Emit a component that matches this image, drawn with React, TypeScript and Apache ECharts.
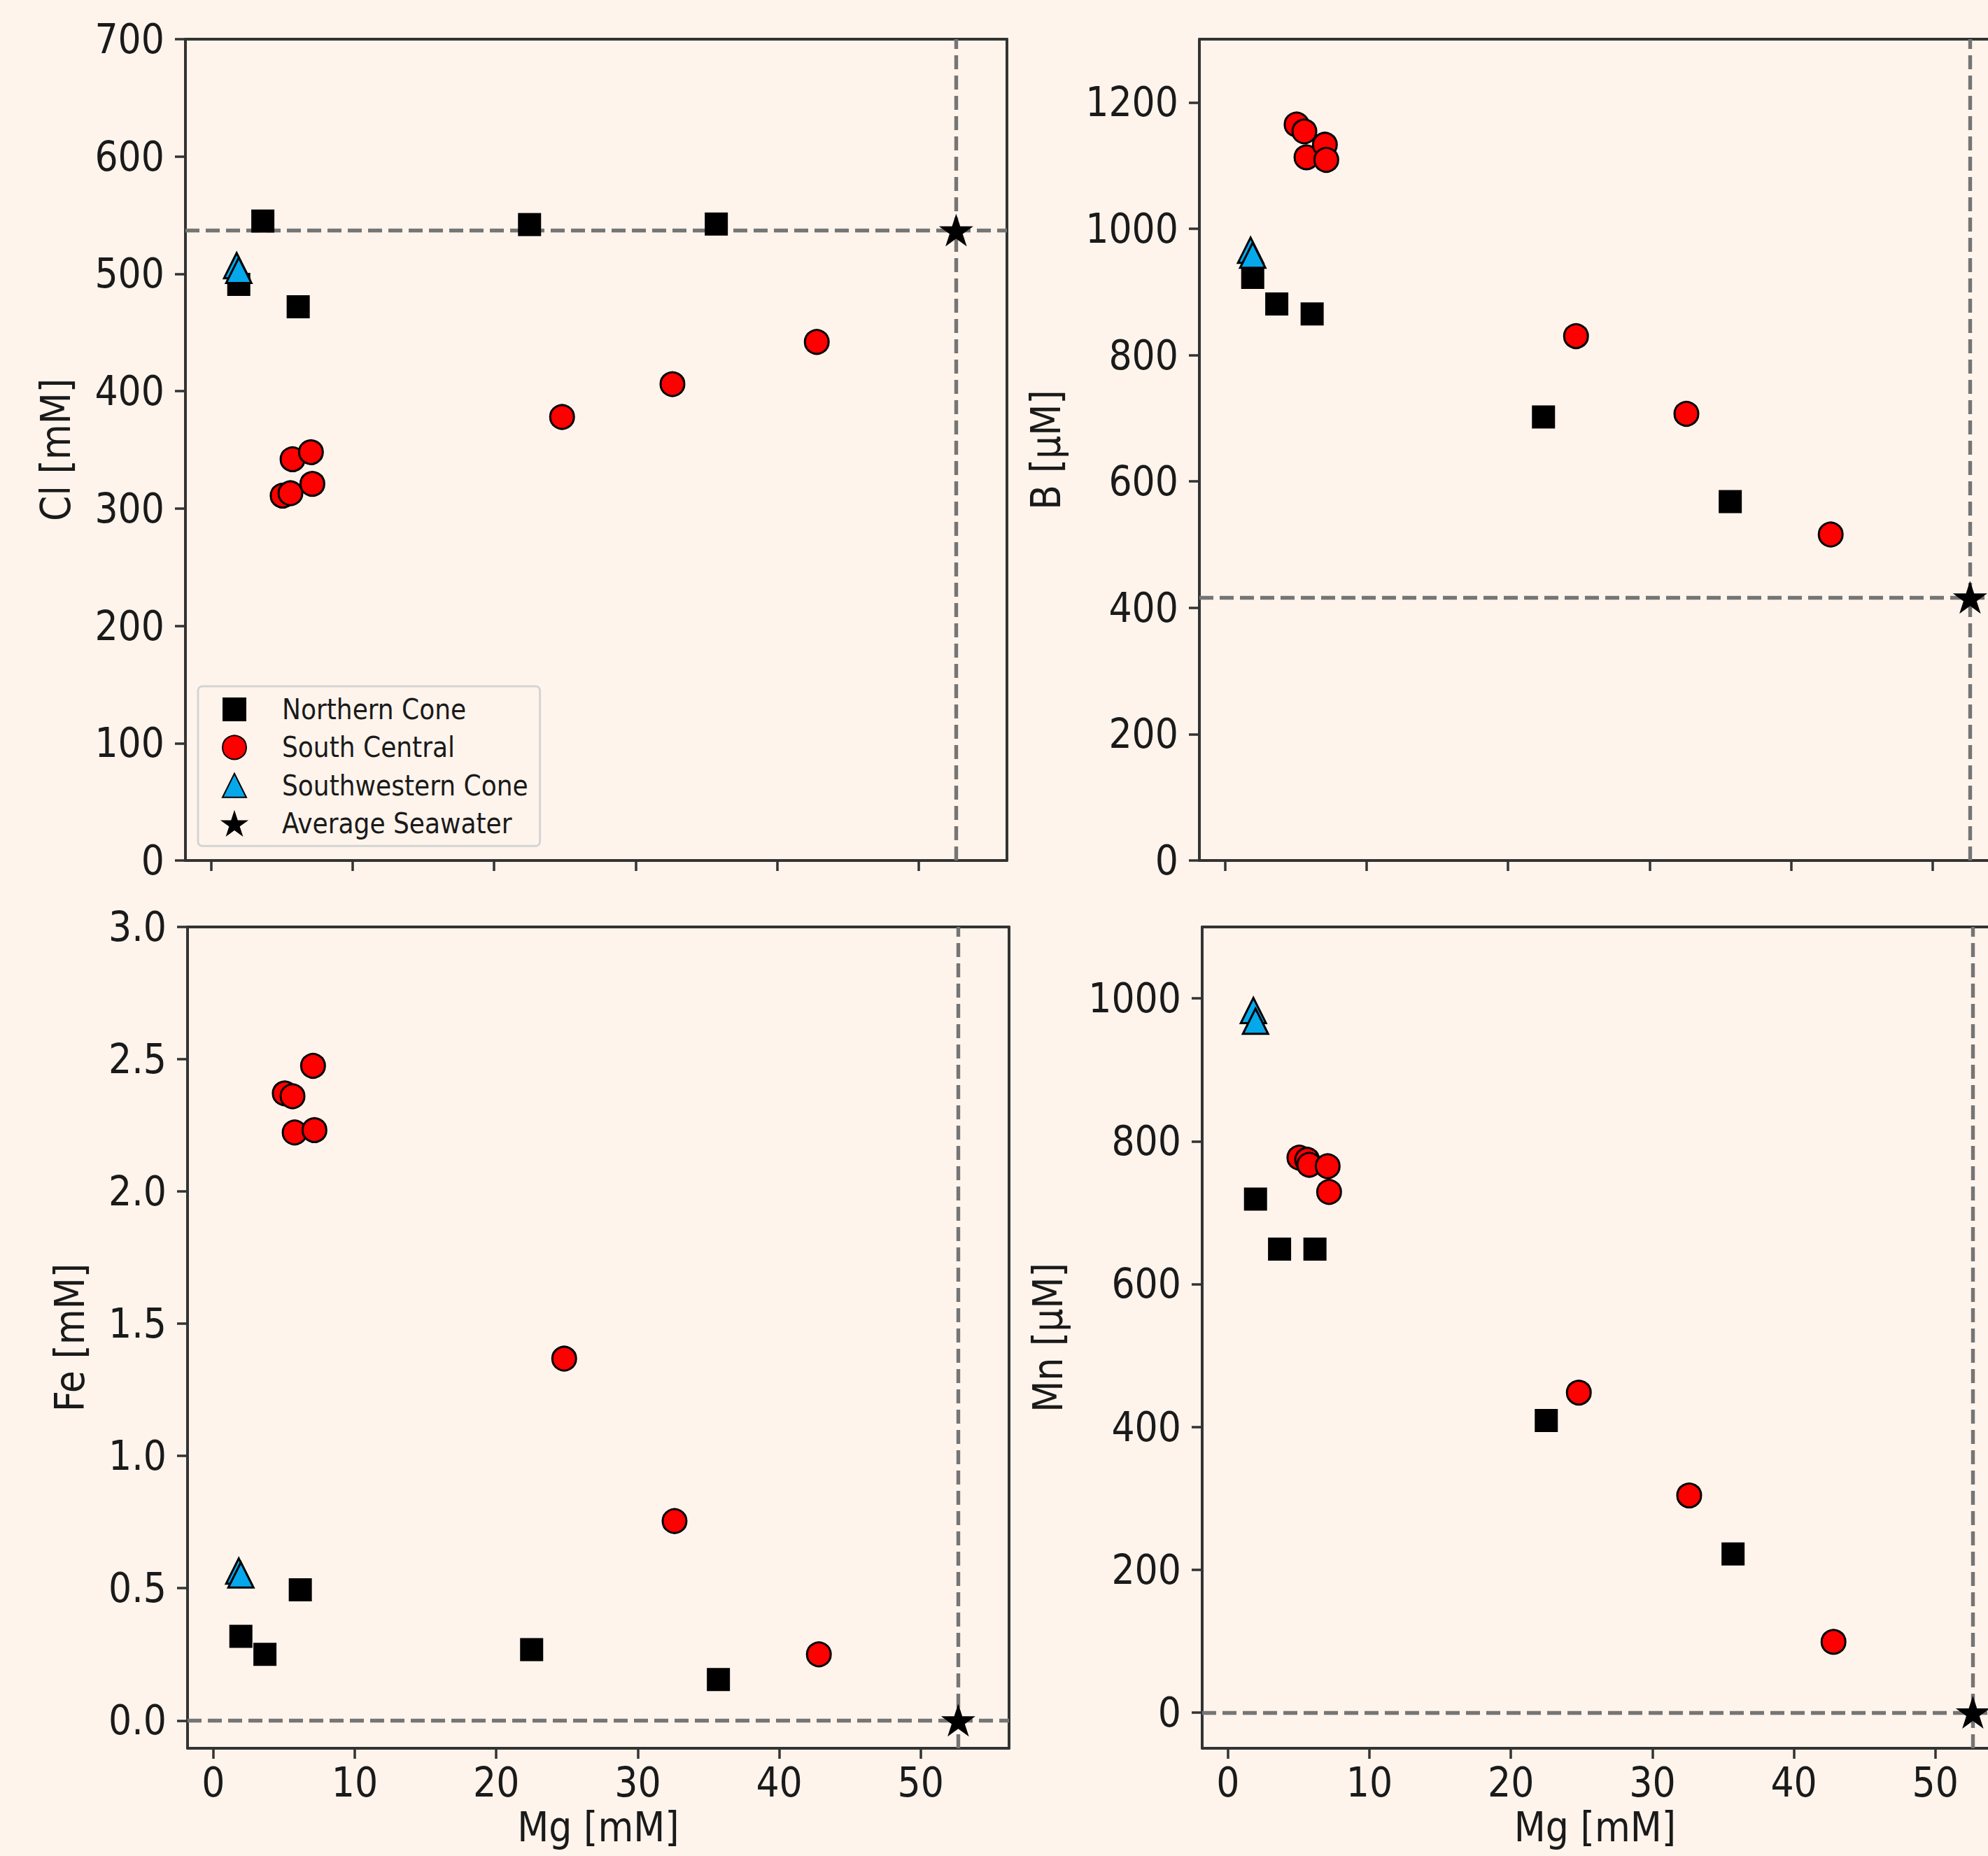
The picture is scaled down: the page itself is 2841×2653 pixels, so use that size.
import React, { useEffect, useRef } from "react";
import * as echarts from "echarts";

// ---- data ----
const seriesNames = ["Northern Cone", "South Central", "Southwestern Cone", "Average Seawater"];

const mgNorthern = [1.95, 3.65, 6.15, 22.5, 35.7];
const mgSouthCentral = [5.05, 5.6, 5.75, 7.05, 7.15, 24.8, 32.6, 42.8];
const mgSouthwestern = [1.8, 1.95];
const mgSeawater = [52.65];

const clNorthern = [491, 545, 472, 542, 542.5];
const clSouthCentral = [311, 313, 342, 348, 321, 378, 406, 442];
const clSouthwestern = [507, 503];
const clSeawater = [537];

const bNorthern = [923, 881, 865, 702, 568];
const bSouthCentral = [1165, 1154, 1113, 1133, 1109, 830, 707, 516];
const bSouthwestern = [966, 958];
const bSeawater = [416];

const feNorthern = [0.318, 0.25, 0.494, 0.268, 0.155];
const feSouthCentral = [2.371, 2.36, 2.223, 2.475, 2.232, 1.368, 0.754, 0.25];
const feSouthwestern = [0.565, 0.55];
const feSeawater = [0];

const mnNorthern = [719, 649, 649, 409, 222];
const mnSouthCentral = [777, 774, 767, 765, 729, 448, 304, 99];
const mnSouthwestern = [983, 968];
const mnSeawater = [0];

const xTicks = [0, 10, 20, 30, 40, 50];
const clTicks = [0, 100, 200, 300, 400, 500, 600, 700];
const bTicks = [0, 200, 400, 600, 800, 1000, 1200];
const feTicks = [0, 0.5, 1.0, 1.5, 2.0, 2.5, 3.0];
const mnTicks = [0, 200, 400, 600, 800, 1000];

// ---- styling ----
const BG = "#FEF4EC";
const FONT = "'DejaVu Sans Condensed', 'DejaVu Sans', sans-serif";
const TEXT = "#1a1a1a";
const SPINE = "#333333";
const FS = 58;
const PX_PER_MG = 20.22;
const X_MIN = -1.82;

function starPath(): string {
  const pts: string[] = [];
  for (let i = 0; i < 10; i++) {
    const r = i % 2 === 0 ? 1 : 0.381966;
    const a = -Math.PI / 2 + (i * Math.PI) / 5;
    pts.push(`${(r * Math.cos(a)).toFixed(4)} ${(r * Math.sin(a)).toFixed(4)}`);
  }
  return "path://M" + pts.join(" L") + " Z";
}
const STAR = starPath();

type Panel = {
  left: number;
  top: number;
  width: number;
  rightSpine: boolean;
  yMin: number;
  yMax: number;
  yTicks: number[];
  yName: string;
  yNameGap: number;
  showX: boolean;
  fmt?: (v: number) => string;
  values: number[][];
};

const panels: Panel[] = [
  {
    left: 265, top: 56, width: 1174, rightSpine: true, yMin: 0, yMax: 700,
    yTicks: clTicks, yName: "Cl [mM]", yNameGap: 156, showX: false,
    values: [clNorthern, clSouthCentral, clSouthwestern, clSeawater],
  },
  {
    left: 1714, top: 56, width: 2841 - 1714, rightSpine: false, yMin: 0, yMax: 1300,
    yTicks: bTicks, yName: "B [µM]", yNameGap: 190, showX: false,
    values: [bNorthern, bSouthCentral, bSouthwestern, bSeawater],
  },
  {
    left: 268, top: 1325, width: 1174, rightSpine: true, yMin: -0.105, yMax: 3.0,
    yTicks: feTicks, yName: "Fe [mM]", yNameGap: 139, showX: true,
    fmt: (v: number) => v.toFixed(1),
    values: [feNorthern, feSouthCentral, feSouthwestern, feSeawater],
  },
  {
    left: 1718, top: 1325, width: 2841 - 1718, rightSpine: false, yMin: -50, yMax: 1100,
    yTicks: mnTicks, yName: "Mn [µM]", yNameGap: 191, showX: true,
    values: [mnNorthern, mnSouthCentral, mnSouthwestern, mnSeawater],
  },
];

const mgGroups = [mgNorthern, mgSouthCentral, mgSouthwestern, mgSeawater];

const markerStyles = [
  { symbol: "rect", symbolSize: 33, itemStyle: { color: "#000000", opacity: 1, borderWidth: 0 } },
  { symbol: "circle", symbolSize: 34, itemStyle: { color: "#FF0000", opacity: 1, borderColor: "#000000", borderWidth: 3 } },
  { symbol: "triangle", symbolSize: 36, itemStyle: { color: "#06A8EC", opacity: 1, borderColor: "#000000", borderWidth: 3 } },
  { symbol: STAR, symbolSize: [40, 38], itemStyle: { color: "#000000", opacity: 1, borderColor: "#000000", borderWidth: 3 } },
];

function buildOption() {
  const PH = 1174;
  const grid = panels.map((p) => ({
    left: p.left,
    top: p.top,
    width: p.width,
    height: PH,
    show: false,
    containLabel: false,
  }));

  const lineStyle = { color: SPINE, width: 4 };
  const xMaxOf = (p: Panel) => X_MIN + p.width / PX_PER_MG;

  const xMain = panels.map((p, i) => ({
    type: "value",
    gridIndex: i,
    position: "bottom",
    min: X_MIN,
    max: xMaxOf(p),
    splitLine: { show: false },
    axisLine: { show: true, onZero: false, lineStyle },
    axisTick: { show: true, length: 15, lineStyle: { color: SPINE, width: 3.5 }, customValues: xTicks },
    axisLabel: {
      show: p.showX,
      customValues: xTicks,
      margin: 20,
      fontSize: FS,
      fontFamily: FONT,
      color: TEXT,
    },
    name: p.showX ? "Mg [mM]" : "",
    nameLocation: "middle",
    nameGap: 84,
    nameTextStyle: { fontSize: FS, lineHeight: 58, fontFamily: FONT, color: TEXT },
  }));
  const xTop = panels.map((p, i) => ({
    type: "value",
    gridIndex: i,
    position: "top",
    min: X_MIN,
    max: xMaxOf(p),
    splitLine: { show: false },
    axisLine: { show: true, onZero: false, lineStyle },
    axisTick: { show: false },
    axisLabel: { show: false },
  }));

  const yMain = panels.map((p, i) => ({
    type: "value",
    gridIndex: i,
    position: "left",
    min: p.yMin,
    max: p.yMax,
    splitLine: { show: false },
    axisLine: { show: true, onZero: false, lineStyle },
    axisTick: { show: true, length: 15, lineStyle: { color: SPINE, width: 3.5 }, customValues: p.yTicks },
    axisLabel: {
      show: true,
      customValues: p.yTicks,
      margin: 30,
      fontSize: FS,
      fontFamily: FONT,
      color: TEXT,
      formatter: p.fmt ? (v: number) => p.fmt!(v) : (v: number) => String(v),
    },
    name: p.yName,
    nameLocation: "middle",
    nameGap: p.yNameGap,
    nameTextStyle: { fontSize: FS, fontFamily: FONT, color: TEXT },
  }));
  const yRight = panels.map((p, i) => ({
    type: "value",
    gridIndex: i,
    position: "right",
    min: p.yMin,
    max: p.yMax,
    show: p.rightSpine,
    splitLine: { show: false },
    axisLine: { show: p.rightSpine, onZero: false, lineStyle },
    axisTick: { show: false },
    axisLabel: { show: false },
  }));

  const series: any[] = [];
  panels.forEach((p, gi) => {
    seriesNames.forEach((name, si) => {
      const xs = mgGroups[si];
      const ys = p.values[si];
      const s: any = {
        type: "scatter",
        name,
        xAxisIndex: gi,
        yAxisIndex: gi,
        data: xs.map((x, k) => [x, ys[k]]),
        symbol: markerStyles[si].symbol,
        symbolSize: markerStyles[si].symbolSize,
        itemStyle: markerStyles[si].itemStyle,
        z: 3 + si,
        clip: false,
        emphasis: { disabled: true },
      };
      if (si === 3) {
        s.markLine = {
          silent: true,
          z: 1,
          symbol: ["none", "none"],
          label: { show: false },
          emphasis: { disabled: true },
          lineStyle: { color: "#757575", width: 5.4, type: [20, 9], opacity: 1 },
          data: [{ xAxis: xs[0] }, { yAxis: ys[0] }],
        };
      }
      series.push(s);
    });
  });

  return {
    animation: false,
    backgroundColor: BG,
    grid,
    xAxis: [...xMain, ...xTop],
    yAxis: [...yMain, ...yRight],
    legend: {
      show: true,
      orient: "vertical",
      left: 283,
      top: 981,
      padding: [13, 17, 12, 34],
      itemGap: 14.4,
      itemWidth: 34,
      itemHeight: 34,
      selectedMode: false,
      borderColor: "#d4d4d4",
      borderWidth: 3,
      borderRadius: 6,
      backgroundColor: BG,
      textStyle: {
        fontSize: 40,
        lineHeight: 40,
        fontFamily: FONT,
        color: TEXT,
        padding: [0, 0, 0, 46],
      },
      data: seriesNames,
    },
    series,
  };
}

export default function App() {
  const ref = useRef<HTMLDivElement>(null);
  useEffect(() => {
    if (!ref.current) return;
    const chart = echarts.init(ref.current, null, { renderer: "svg" });
    chart.setOption(buildOption() as any);
    return () => chart.dispose();
  }, []);
  return (
    <div
      ref={ref}
      style={{ position: "fixed", left: 0, top: 0, width: 2841, height: 2653, background: BG }}
    />
  );
}
